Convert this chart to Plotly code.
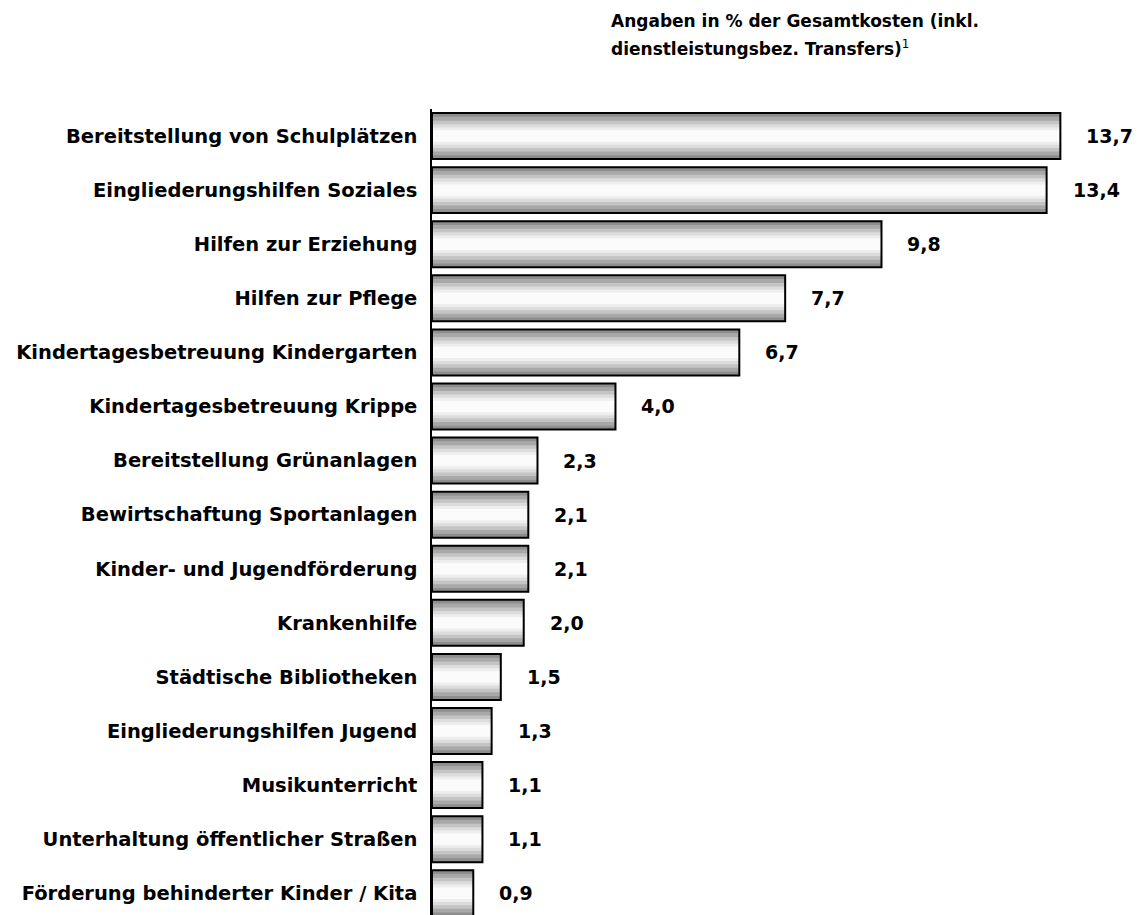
import plotly.graph_objects as go

# Daten
categories = [
    "Bereitstellung von Schulplätzen",
    "Eingliederungshilfen Soziales",
    "Hilfen zur Erziehung",
    "Hilfen zur Pflege",
    "Kindertagesbetreuung Kindergarten",
    "Kindertagesbetreuung Krippe",
    "Bereitstellung Grünanlagen",
    "Bewirtschaftung Sportanlagen",
    "Kinder- und Jugendförderung",
    "Krankenhilfe",
    "Städtische Bibliotheken",
    "Eingliederungshilfen Jugend",
    "Musikunterricht",
    "Unterhaltung öffentlicher Straßen",
    "Förderung behinderter Kinder / Kita",
]
values = [13.7, 13.4, 9.8, 7.7, 6.7, 4.0, 2.3, 2.1, 2.1, 2.0, 1.5, 1.3, 1.1, 1.1, 0.9]
value_labels = [f"{v:.1f}".replace(".", ",") for v in values]
title_lines = [
    "<b>Angaben in % der Gesamtkosten (inkl.</b>",
    "<b>dienstleistungsbez. Transfers)</b><sup>1</sup>",
]

FONT = "DejaVu Sans"

fig = go.Figure()

# Verlauf (grau -> weiß -> grau) über mehrere überlagerte Balken
gradient = [
    (0.85, "#8e8e8e"),
    (0.71, "#a8a8a8"),
    (0.57, "#c4c4c4"),
    (0.44, "#dcdcdc"),
    (0.32, "#eeeeee"),
    (0.21, "#fbfbfb"),
]
for w, c in gradient:
    fig.add_trace(go.Bar(
        x=values, y=categories, orientation="h",
        width=w, marker_color=c, marker_line_width=0,
        showlegend=False, hoverinfo="skip",
    ))

# Rahmen
fig.add_trace(go.Bar(
    x=values, y=categories, orientation="h",
    width=0.85, marker_color="rgba(0,0,0,0)",
    marker_line=dict(color="black", width=2),
    showlegend=False,
))

# Wertbeschriftungen
for cat, v, lab in zip(categories, values, value_labels):
    fig.add_annotation(
        x=v, y=cat, text=f"<b>{lab}</b>", showarrow=False,
        xanchor="left", xshift=24,
        font=dict(family=FONT, size=19, color="black"),
    )

W = 1135
left, right = 424, 23
plot_w = W - left - right

# Überschrift (zwei Zeilen, weiter Zeilenabstand)
for line, shift in zip(title_lines, [88, 61]):
    fig.add_annotation(
        xref="paper", yref="paper",
        x=(601 - left) / plot_w, y=1, yshift=shift,
        xanchor="left", yanchor="middle", align="left", showarrow=False,
        text=line,
        font=dict(family=FONT, size=17, color="black"),
    )

fig.update_layout(
    width=W, height=915,
    barmode="overlay",
    plot_bgcolor="white", paper_bgcolor="white",
    margin=dict(l=left, r=right, t=101, b=0),
    font=dict(family=FONT, size=19, color="black"),
)
fig.update_xaxes(range=[0, 15], visible=False)
fig.update_yaxes(
    range=[14.55, -0.5],
    showline=True, linecolor="black", linewidth=1.5,
    showgrid=False, ticks="", ticklabelstandoff=9,
    tickfont=dict(family=FONT, size=19.5, weight="bold"),
    automargin=False,
)

fig.write_html("out.html")
